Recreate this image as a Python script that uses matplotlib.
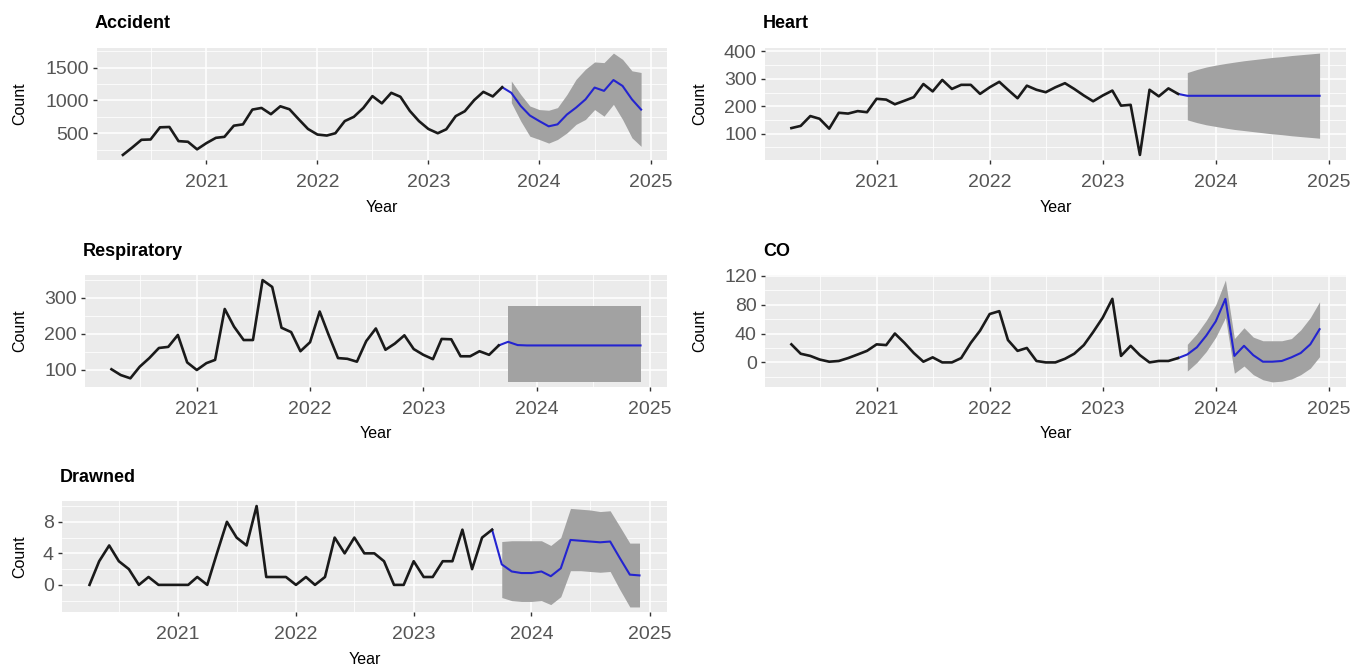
import numpy as np
import pandas as pd
import matplotlib
matplotlib.use("Agg")
import matplotlib.pyplot as plt
import matplotlib.dates as mdates

plt.rcParams['font.family'] = ['Liberation Sans', 'DejaVu Sans']

# monthly observations Apr 2020 - Sep 2023, forecast Oct 2023 - Dec 2024
hist_months = pd.date_range("2020-04-01", "2023-09-01", freq="MS")
fc_months = pd.date_range("2023-10-01", "2024-12-01", freq="MS")

accident_hist = [170, 280, 400, 405, 590, 595, 380, 370, 255,
                 350, 430, 445, 615, 635, 860, 885, 790, 910, 865, 710, 565,
                 480, 465, 500, 685, 750, 885, 1065, 955, 1115, 1055, 840, 685,
                 565, 500, 560, 760, 835, 1005, 1130, 1060, 1200]
accident_fc = [1115, 915, 770, 685, 605, 635, 785, 890, 1015, 1195, 1145, 1310, 1220, 1015, 860]
accident_hi = [1295, 1090, 915, 860, 850, 890, 1090, 1320, 1475, 1585, 1575, 1720, 1625, 1450, 1425]
accident_lo = [965, 685, 455, 405, 350, 405, 505, 635, 710, 860, 760, 940, 710, 430, 300]

heart_hist = [120, 128, 164, 154, 118, 176, 173, 182, 178,
              227, 224, 207, 220, 233, 281, 254, 296, 263, 278, 278, 245,
              269, 289, 260, 229, 275, 260, 251, 269, 284, 263, 239, 218,
              239, 257, 202, 205, 22, 260, 236, 265, 245]
heart_fc = [238, 238, 238, 238, 238, 238, 238, 238, 238, 238, 238, 238, 238, 238, 238]
heart_hi = [323, 334, 343, 350, 356, 361, 366, 370, 374, 378, 381, 385, 388, 391, 394]
heart_lo = [150, 140, 132, 126, 120, 115, 111, 107, 103, 99, 96, 92, 89, 86, 83]

resp_hist = [102, 86, 77, 109, 133, 161, 164, 197, 121,
             100, 119, 128, 269, 220, 183, 183, 349, 330, 217, 205, 152,
             177, 262, 199, 133, 131, 123, 180, 215, 156, 173, 196, 158,
             142, 130, 186, 185, 138, 138, 152, 142, 168]
resp_fc = [178, 169, 168, 168, 168, 168, 168, 168, 168, 168, 168, 168, 168, 168, 168]
resp_hi = [277, 277, 277, 277, 277, 277, 277, 277, 277, 277, 277, 277, 277, 277, 277]
resp_lo = [67, 67, 67, 67, 67, 67, 67, 67, 67, 67, 67, 67, 67, 67, 67]

co_hist = [25, 12, 9, 4, 1, 2, 6, 11, 16,
           25, 24, 40, 27, 13, 1, 7, 0, 0, 6, 27, 44,
           67, 71, 31, 16, 20, 2, 0, 0, 5, 12, 24, 42,
           62, 88, 9, 23, 10, 0, 2, 2, 6]
co_fc = [11, 21, 37, 57, 88, 9, 23, 10, 1, 1, 2, 7, 13, 25, 46]
co_hi = [25, 40, 58, 80, 114, 33, 48, 35, 30, 30, 30, 33, 45, 62, 84]
co_lo = [-12, 0, 15, 35, 62, -15, -5, -17, -24, -27, -26, -23, -17, -8, 8]

drown_hist = [0, 3, 5, 3, 2, 0, 1, 0, 0,
              0, 0, 1, 0, 4, 8, 6, 5, 10, 1, 1, 1,
              0, 1, 0, 1, 6, 4, 6, 4, 4, 3, 0, 0,
              3, 1, 1, 3, 3, 7, 2, 6, 7]
drown_fc = [2.6, 1.7, 1.5, 1.5, 1.7, 1.1, 2.1, 5.7, 5.6, 5.5, 5.4, 5.5, 3.4, 1.3, 1.2]
drown_hi = [5.5, 5.6, 5.6, 5.6, 5.6, 5.0, 6.0, 9.7, 9.6, 9.5, 9.3, 9.4, 7.4, 5.3, 5.3]
drown_lo = [-1.6, -2.0, -2.1, -2.1, -2.0, -2.5, -1.5, 1.8, 1.8, 1.7, 1.6, 1.7, -0.6, -2.8, -2.8]

year_ticks = ["2021", "2022", "2023", "2024", "2025"]

W, H = 1354, 668
BG = "#EBEBEB"
TICK_GREY = "#555555"
RIBBON = "#A2A2A2"
BLUE = "#2424D0"

fig = plt.figure(figsize=(W / 100, H / 100), dpi=100)


def px_rect(l, t, r, b):
    return [l / W, 1 - b / H, (r - l) / W, (b - t) / H]


def panel(rect, title, hist, fc, lo, hi, yticks, yminor):
    l, t, r, b = rect
    ax = fig.add_axes(px_rect(l, t, r, b))
    ax.set_facecolor(BG)
    for s in ax.spines.values():
        s.set_visible(False)

    ax.fill_between(fc_months, lo, hi, color=RIBBON, lw=0, zorder=2)
    ax.plot([hist_months[-1]] + list(fc_months), [hist[-1]] + list(fc),
            color=BLUE, lw=1.5, zorder=3)
    ax.plot(hist_months, hist, color="#1A1A1A", lw=1.9, zorder=4)

    # ggplot style 5% expansion
    x0, x1 = mdates.date2num(hist_months[0]), mdates.date2num(fc_months[-1])
    dx = (x1 - x0) * 0.05
    ax.set_xlim(x0 - dx, x1 + dx)
    allv = list(hist) + list(lo) + list(hi)
    y0, y1 = min(allv), max(allv)
    dy = (y1 - y0) * 0.05
    ax.set_ylim(y0 - dy, y1 + dy)

    ax.set_xticks([mdates.date2num(pd.Timestamp(f"{y}-01-01")) for y in year_ticks])
    ax.set_xticklabels(year_ticks)
    ax.set_xticks([mdates.date2num(pd.Timestamp(f"{y}-07-01")) for y in ["2020", "2021", "2022", "2023", "2024"]],
                  minor=True)
    ax.set_yticks(yticks)
    ax.set_yticklabels([str(v) for v in yticks])
    ax.set_yticks(yminor, minor=True)

    ax.grid(which="major", color="white", lw=1.1, zorder=0)
    ax.grid(which="minor", color="white", lw=0.55, zorder=0)
    ax.set_axisbelow(True)
    ax.tick_params(which="major", length=3, width=1.0, color="#333333",
                   labelsize=14, labelcolor=TICK_GREY)
    ax.tick_params(axis="x", which="major", pad=7)
    ax.tick_params(axis="y", which="major", pad=3)
    ax.tick_params(which="minor", length=0)

    fig.text((l - 2) / W, 1 - (t - 24) / H, title, fontsize=13, fontweight="bold",
             ha="left", va="center", color="black")
    fig.text((l + r) / 2 / W, 1 - (b + 47) / H, "Year", fontsize=11.5,
             ha="center", va="center", color="black")
    cx = 20 if l < 400 else 700
    fig.text(cx / W, 1 - (t + b) / 2 / H, "Count", fontsize=11.5, rotation=90,
             ha="center", va="center", color="black")
    return ax


panel((97, 48, 667, 160), "Accident", accident_hist, accident_fc, accident_lo, accident_hi,
      [500, 1000, 1500], [250, 750, 1250, 1750])
panel((765, 48, 1346, 160), "Heart", heart_hist, heart_fc, heart_lo, heart_hi,
      [100, 200, 300, 400], [50, 150, 250, 350])
panel((85, 275, 667, 387), "Respiratory", resp_hist, resp_fc, resp_lo, resp_hi,
      [100, 200, 300], [150, 250, 350])
panel((765, 275, 1346, 387), "CO", co_hist, co_fc, co_lo, co_hi,
      [0, 40, 80, 120], [-20, 20, 60, 100])
panel((62, 501, 667, 612), "Drawned", drown_hist, drown_fc, drown_lo, drown_hi,
      [0, 4, 8], [-2, 2, 6, 10])

fig.savefig("out.png", dpi=100, facecolor="white")
